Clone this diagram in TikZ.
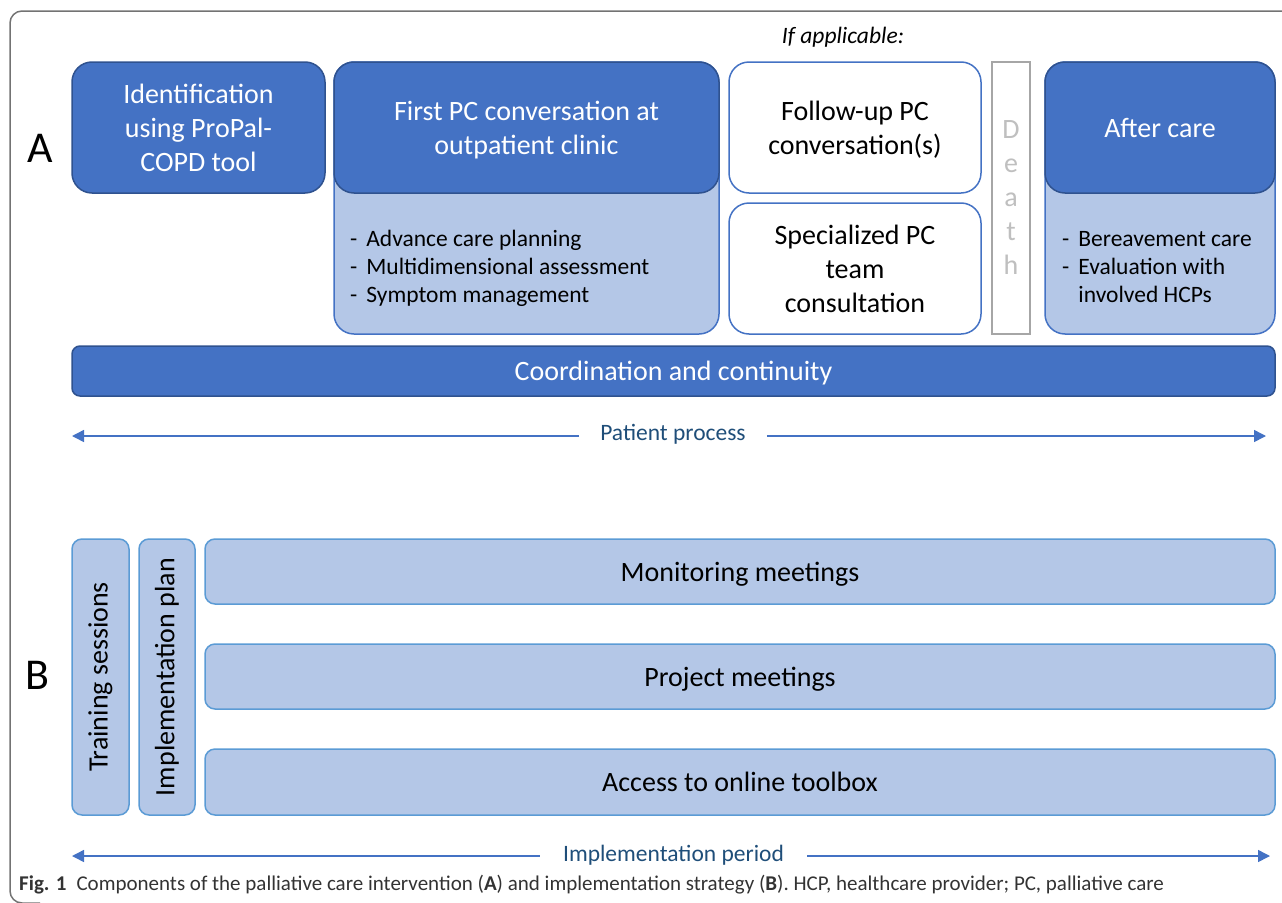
\documentclass[tikz,border=0pt]{standalone}
\usepackage{fontspec}
\setmainfont{Carlito}
\usetikzlibrary{arrows.meta}
\definecolor{darkblue}{HTML}{4472C4}
\definecolor{edgeblue}{HTML}{2F528F}
\definecolor{lightblue}{HTML}{B4C7E7}
\definecolor{skyedge}{HTML}{5B9BD5}
\definecolor{labelblue}{HTML}{1F4E79}
\tikzset{>={Triangle[length=12pt,width=12pt]}}
\tikzset{
  darkbox/.style={draw=edgeblue, fill=darkblue, line width=1.5pt, rounded corners=20pt,
    text=white, align=center, inner sep=0pt, text depth=0pt, font=\fontsize{28}{34}\selectfont},
  lightbox/.style={draw=darkblue, fill=lightblue, line width=1.5pt, rounded corners=20pt, inner sep=0pt},
  whitebox/.style={draw=darkblue, fill=white, line width=1.5pt, rounded corners=20pt,
    align=center, inner sep=0pt, text depth=0pt, font=\fontsize{28}{34}\selectfont},
  planbox/.style={draw=skyedge, fill=lightblue, line width=1.5pt, rounded corners=10pt,
    align=center, inner sep=0pt, text depth=0pt, font=\fontsize{28}{34}\selectfont},
  listtext/.style={anchor=west, align=left, inner sep=0pt, font=\fontsize{23.5}{28}\selectfont},
  timelabel/.style={text=labelblue, inner ysep=0pt, font=\fontsize{23.5}{28}\selectfont},
  timeline/.style={draw=darkblue, line width=1.5pt}
}

\begin{document}
\begin{tikzpicture}[x=1pt, y=-1pt]
    \useasboundingbox (0,0) rectangle (1282,902);
    \draw[draw=black!55, line width=1.5pt, rounded corners=12pt] (1290,11) -- (10,11) -- (10,903) -- (40,903);

    \node[font=\fontsize{44}{50}\selectfont] (lblA) at (40,148) {A};
    \node[font=\fontsize{44}{50}\selectfont] (lblB) at (37,675) {B};

    \node[darkbox, minimum width=253pt, minimum height=131pt] (ident) at (198.5,127.5)
        {Identification\\using ProPal-\\COPD tool};

    \node[lightbox, minimum width=385pt, minimum height=272pt] (firstbg) at (526.5,198) {};
    \node[darkbox, minimum width=385pt, minimum height=131pt] (first) at (526.5,127.5)
        {First PC conversation at\\outpatient clinic};
    \node[listtext] (firstlist) at (350,269) {\begin{tabular}{@{}l@{\hspace{9pt}}l@{}}
        - & Advance care planning\\ - & Multidimensional assessment\\ - & Symptom management\end{tabular}};

    \node[font=\fontsize{23.5}{28}\selectfont\itshape] (ifapp) at (843,37) {If applicable:};
    \node[whitebox, minimum width=252pt, minimum height=131pt] (follow) at (855,127.5)
        {Follow-up PC\\conversation(s)};
    \node[whitebox, minimum width=252pt, minimum height=131pt] (special) at (855,268.5)
        {Specialized PC\\team\\consultation};

    \node[draw=black!35, fill=white, line width=1.5pt, inner sep=0pt, align=center,
        text=black!25, font=\fontsize{28}{34}\selectfont,
        minimum width=38pt, minimum height=272pt] (death) at (1011,198) {D\\e\\a\\t\\h};

    \node[lightbox, minimum width=230pt, minimum height=272pt] (afterbg) at (1160,198) {};
    \node[darkbox, minimum width=230pt, minimum height=131pt] (after) at (1160,127.5) {After care};
    \node[listtext] (afterlist) at (1062,269) {\begin{tabular}{@{}l@{\hspace{9pt}}l@{}}
        - & Bereavement care\\ - & Evaluation with\\ & involved HCPs\end{tabular}};

    \node[darkbox, rounded corners=8pt, minimum width=1203pt, minimum height=50pt] (coord) at (673.5,371)
        {Coordination and continuity};

    \node[timelabel, inner xsep=21pt] (patient) at (673,434) {Patient process};
    \coordinate (patL) at (72,436);
    \coordinate (patR) at (1266,436);
    \draw[timeline, ->] (patient.west |- patL) -- (patL);
    \draw[timeline, ->] (patient.east |- patR) -- (patR);

    \node[planbox, minimum width=57pt, minimum height=276pt] (train) at (100.5,677) {};
    \node[rotate=90, font=\fontsize{28}{34}\selectfont] (traintext) at (train.center) {Training sessions};
    \node[planbox, minimum width=56pt, minimum height=276pt] (plan) at (167,677) {};
    \node[rotate=90, font=\fontsize{28}{34}\selectfont] (plantext) at (plan.center) {Implementation plan};

    \node[planbox, minimum width=1070pt, minimum height=65pt] (monitor) at (740,571.5) {Monitoring meetings};
    \node[planbox, minimum width=1070pt, minimum height=65pt] (project) at (740,676.5) {Project meetings};
    \node[planbox, minimum width=1070pt, minimum height=66pt] (toolbox) at (740,782) {Access to online toolbox};

    \node[timelabel, inner xsep=23pt] (period) at (673.5,855) {Implementation period};
    \coordinate (perL) at (72,856);
    \coordinate (perR) at (1270,856);
    \draw[timeline, ->] (period.west |- perL) -- (perL);
    \draw[timeline, ->] (period.east |- perR) -- (perR);

    \node[anchor=west, inner sep=0pt, text=black!80, font=\fontsize{21}{25}\selectfont] (caption) at (19,885)
        {\textbf{Fig. 1}\hspace{10pt}Components of the palliative care intervention (\textbf{A}) and implementation strategy (\textbf{B}). HCP, healthcare provider; PC, palliative care};
\end{tikzpicture}
\end{document}
